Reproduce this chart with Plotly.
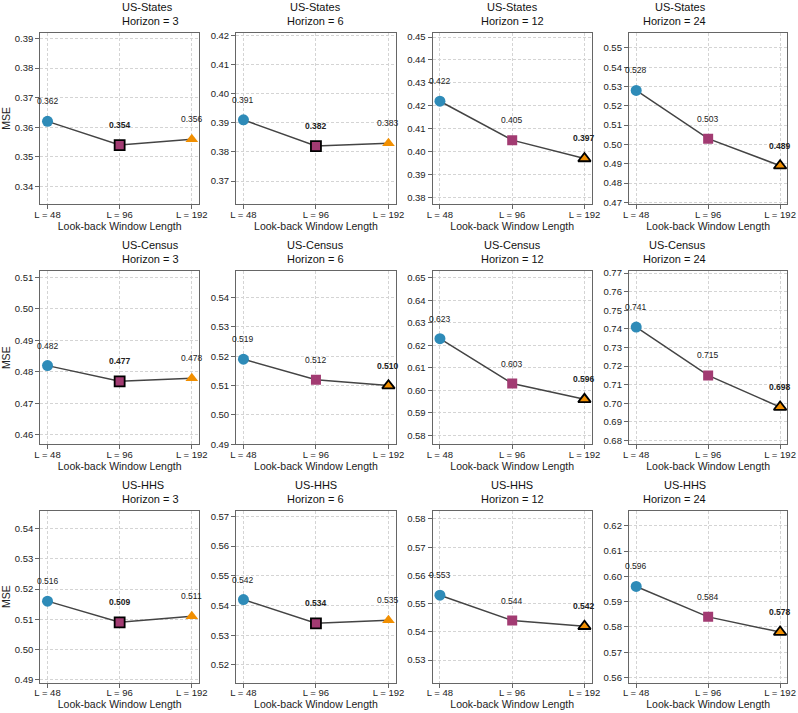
import plotly.graph_objects as go

datasets = ["US-States", "US-Census", "US-HHS"]
horizons = [3, 6, 12, 24]
lookbacks = ["L = 48", "L = 96", "L = 192"]

us_states = [
    [0.362, 0.354, 0.356],
    [0.391, 0.382, 0.383],
    [0.422, 0.405, 0.397],
    [0.528, 0.503, 0.489],
]
us_census = [
    [0.482, 0.477, 0.478],
    [0.519, 0.512, 0.510],
    [0.623, 0.603, 0.596],
    [0.741, 0.715, 0.698],
]
us_hhs = [
    [0.516, 0.509, 0.511],
    [0.542, 0.534, 0.535],
    [0.553, 0.544, 0.542],
    [0.596, 0.584, 0.578],
]
all_values = [us_states, us_census, us_hhs]

marker_colors = ["#2E8BB8", "#A23B72", "#F18F01"]
marker_symbols = ["circle", "square", "triangle-up"]
marker_sizes = [11, 10, 11]

W, H = 798, 713
col_px = [(40.3, 199.0), (236.2, 395.7), (432.7, 591.7), (629.0, 787.3)]
row_px = [(32.5, 204.3), (271.2, 444.3), (510.5, 682.7)]

FONT = "Liberation Sans, Arial, sans-serif"

fig = go.Figure()
annotations = []
layout = {}

for r, ds in enumerate(datasets):
    for c, h in enumerate(horizons):
        idx = r * 4 + c + 1
        xa = "x" if idx == 1 else f"x{idx}"
        ya = "y" if idx == 1 else f"y{idx}"
        vals = all_values[r][c]
        best = vals.index(min(vals))
        fig.add_trace(go.Scatter(
            x=lookbacks, y=vals, mode="lines",
            line=dict(color="#444444", width=1.5),
            xaxis=xa, yaxis=ya, showlegend=False, hoverinfo="skip"))
        for i in range(3):
            is_best = i == best
            fig.add_trace(go.Scatter(
                x=[lookbacks[i]], y=[vals[i]], mode="markers",
                marker=dict(color=marker_colors[i], symbol=marker_symbols[i],
                            size=marker_sizes[i],
                            line=dict(color="black", width=1.8 if is_best else 0)),
                xaxis=xa, yaxis=ya, showlegend=False))
            annotations.append(dict(
                x=lookbacks[i], y=vals[i], xref=xa, yref=ya,
                text=(f"<b>{vals[i]:.3f}</b>" if is_best else f"{vals[i]:.3f}"),
                showarrow=False, yshift=20,
                font=dict(size=8.5, color="#222222", family=FONT)))
        x0, x1 = col_px[c]
        y0, y1 = row_px[r]
        dom_x = [x0 / W, x1 / W]
        dom_y = [1 - y1 / H, 1 - y0 / H]
        axis_common = dict(
            showline=True, mirror=True, linecolor="#666666", linewidth=1.3,
            ticks="outside", ticklen=4, tickcolor="#666666", tickwidth=1,
            showgrid=True, gridcolor="#d4d4d4", griddash="3px,2px", gridwidth=0.8,
            zeroline=False, automargin=False,
            tickfont=dict(size=9.5, color="#222222", family=FONT),
        )
        layout[f"xaxis{idx}"] = dict(
            axis_common, domain=dom_x, anchor=ya, type="category",
            range=[-0.1, 2.1], ticklabelstandoff=-3,
            title=dict(text="Look-back Window Length", standoff=3,
                       font=dict(size=10.5, color="#222222", family=FONT)))
        layout[f"yaxis{idx}"] = dict(
            axis_common, domain=dom_y, anchor=xa,
            range=[min(vals) - 0.02, max(vals) + 0.03],
            dtick=0.01, tickformat=".2f",
            title=dict(text="MSE" if c == 0 else "", standoff=5,
                       font=dict(size=10.5, color="#222222", family=FONT)))
        xc = (dom_x[0] + dom_x[1]) / 2
        annotations.append(dict(
            x=xc, y=dom_y[1], xref="paper", yref="paper", text=ds,
            showarrow=False, yanchor="middle", yshift=26,
            font=dict(size=11, color="#111111", family=FONT)))
        annotations.append(dict(
            x=xc, y=dom_y[1], xref="paper", yref="paper", text=f"Horizon = {h}",
            showarrow=False, yanchor="middle", yshift=12,
            font=dict(size=11, color="#111111", family=FONT)))

fig.update_layout(
    width=W, height=H, margin=dict(l=0, r=0, t=0, b=0),
    plot_bgcolor="white", paper_bgcolor="white",
    font=dict(family=FONT), annotations=annotations, **layout)

fig.write_html("out.html")
